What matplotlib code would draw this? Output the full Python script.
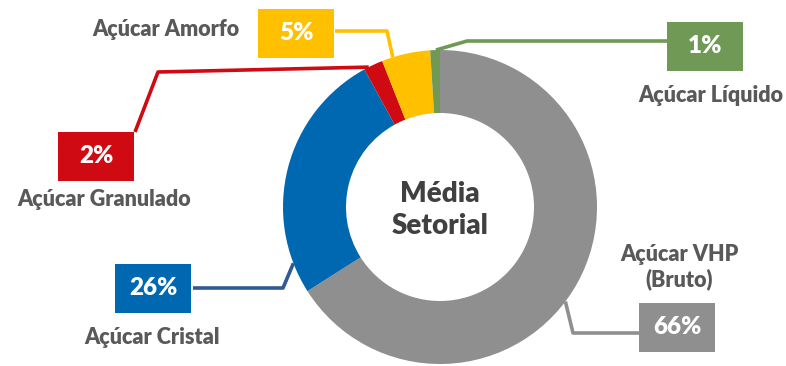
import numpy as np
import matplotlib.pyplot as plt

# ─── Data ─────────────────────────────────────────────────────────────────────
categories = ["Açúcar VHP\n(Bruto)", "Açúcar Cristal", "Açúcar Granulado",
              "Açúcar Amorfo", "Açúcar Líquido"]
shares = [66, 26, 2, 5, 1]
colors = ["#8F8F8F", "#0068B1", "#D00A12", "#FFC000", "#6F9955"]
line_colors = ["#8F8F8F", "#2F5A96", "#D00A12", "#FFC000", "#6F9955"]
center_label = "Média\nSetorial"

# ─── Layout (pixel coords, y from top) ───────────────────────────────────────
W, H = 786, 366
CX, CY, R, RING = 440, 207, 157, 63
TXT = "#595959"
FONT = "Lato"
WEIGHT = "heavy"

# box centre, label centre, leader anchor angle (deg), elbow points
layout = [
    dict(box=(677, 327), lab=(679, 267), ang=-37, elbow=[(573, 333), (639, 333)]),
    dict(box=(153, 288), lab=(152, 337), ang=201, elbow=[(283, 288), (193, 288)]),
    dict(box=(96, 156), lab=(104, 200), ang=117, elbow=[(158, 72), (135, 132)]),
    dict(box=(296, 33), lab=(166, 30), ang=107.5, elbow=[(387, 31), (335, 31)]),
    dict(box=(705, 46), lab=(711, 96), ang=91.5, elbow=[(467, 41), (667, 41)]),
]
BOX_W, BOX_H = 76, 49

fig = plt.figure(figsize=(W / 100, H / 100), dpi=100)
ax = fig.add_axes([0, 0, 1, 1])

def Y(y):
    return H - y

ax.pie(shares, colors=colors, startangle=90, counterclock=False,
       center=(CX, Y(CY)), radius=R,
       wedgeprops=dict(width=RING, linewidth=0))

ax.text(CX, Y(CY) - 3, center_label, ha="center", va="center", fontsize=20,
        fontweight=WEIGHT, color="#404040", family=FONT, linespacing=1.25)

for val, name, col, lc, lay in zip(shares, categories, colors, line_colors, layout):
    a = np.deg2rad(lay["ang"])
    start = (CX + R * np.cos(a), Y(CY) + R * np.sin(a))
    pts = [start] + [(x, Y(y)) for x, y in lay["elbow"]]
    xs, ys = zip(*pts)
    ax.plot(xs, ys, color=lc, lw=2.6, solid_capstyle="butt", zorder=1)

    bx, by = lay["box"]
    ax.add_patch(plt.Rectangle((bx - BOX_W / 2, Y(by) - BOX_H / 2), BOX_W, BOX_H,
                               facecolor=col, edgecolor="none", zorder=3))
    ax.text(bx, Y(by), f"{val}%", ha="center", va="center", fontsize=17.5,
            fontweight=WEIGHT, color="white", family=FONT, zorder=4)

    lx, ly = lay["lab"]
    ax.text(lx, Y(ly), name, ha="center", va="center", fontsize=15.5,
            fontweight=WEIGHT, color=TXT, family=FONT, linespacing=1.2)

ax.set_xlim(0, W)
ax.set_ylim(0, H)
ax.set_aspect("equal")
ax.axis("off")

fig.savefig("out.png", dpi=100)
